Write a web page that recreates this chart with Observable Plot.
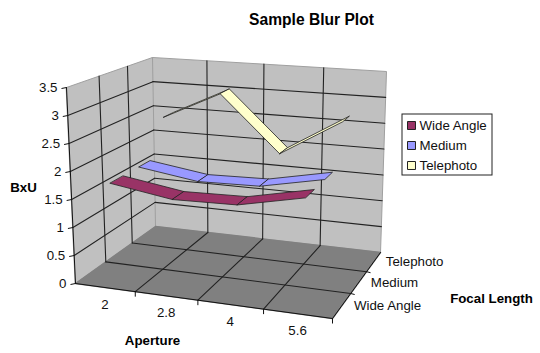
<!DOCTYPE html>
<html><head><meta charset="utf-8">
<script src="https://cdn.jsdelivr.net/npm/d3@7"></script>
<script src="https://cdn.jsdelivr.net/npm/@observablehq/plot@0.6"></script>
<style>html,body{margin:0;padding:0;background:#fff}svg{display:block}</style>
</head><body><div id="chart"></div>
<script>
const title = "Sample Blur Plot";
const apertures = ["2", "2.8", "4", "5.6"];
const focalLengths = ["Wide Angle", "Medium", "Telephoto"];
const valueTicks = [0, 0.5, 1, 1.5, 2, 2.5, 3, 3.5];
const wideAngle = [1.76, 1.59, 1.62, 1.87];
const medium = [1.76, 1.6, 1.63, 1.87];
const telephoto = [2.47, 3.02, 1.95, 2.66];
const seriesColors = ["#993366", "#9999ff", "#ffffcc"];

// Oblique perspective view of the 3-D box (view constants in page units)
const view = {
  f0: [75, 283], f1: [332, 318], b0: [155, 226], b1: [380, 252],
  F0: [66, 87], F1: [338, 110], B0: [152, 57], B1: [386, 71],
  kx: 1.1, kz: 0.82, ribbon: 0.22
};
const lerp = (a, b, t) => [a[0] + (b[0] - a[0]) * t, a[1] + (b[1] - a[1]) * t];
function project(i, z, v) {
  const u = i / 4, w = z / 3;
  const t = u / (u + (1 - u) * view.kx), s = w / (w + (1 - w) * view.kz);
  const bottom = lerp(lerp(view.f0, view.f1, t), lerp(view.b0, view.b1, t), s);
  const top = lerp(lerp(view.F0, view.F1, t), lerp(view.B0, view.B1, t), s);
  const p = lerp(bottom, top, v / 3.5);
  return {x: p[0], y: p[1]};
}
const maxV = 3.5, nI = apertures.length, nZ = focalLengths.length;
const poly = (pts, key) => pts.map((p) => ({...project(...p), key}));

const floor = poly([[0,0,0],[nI,0,0],[nI,nZ,0],[0,nZ,0]], "floor");
const backWall = poly([[0,nZ,0],[nI,nZ,0],[nI,nZ,maxV],[0,nZ,maxV]], "back");
const leftWall = poly([[0,0,0],[0,nZ,0],[0,nZ,maxV],[0,0,maxV]], "left");

let grid = [];
const addSeg = (a, b, key) => grid.push(...poly([a, b], key));
valueTicks.slice(1, -1).forEach((v) => {
  addSeg([0,0,v],[0,nZ,v],"lv"+v);
  addSeg([0,nZ,v],[nI,nZ,v],"bv"+v);
});
d3.range(1, nI).forEach((i) => {
  addSeg([i,nZ,0],[i,nZ,maxV],"bi"+i);
  addSeg([i,0,0],[i,nZ,0],"fi"+i);
});
d3.range(1, nZ).forEach((z) => {
  addSeg([0,z,0],[0,z,maxV],"lz"+z);
  addSeg([0,z,0],[nI,z,0],"fz"+z);
});

let axes = [];
const addAxis = (a, b, key) => axes.push(...poly([a, b], key));
addAxis([0,0,0],[0,0,maxV],"ay");
addAxis([0,0,0],[nI,0,0],"ax");
addAxis([nI,0,0],[nI,nZ,0],"az");
const tickData = [];
valueTicks.forEach((v) => tickData.push({...project(0,0,v), dx:-5, dy:1}));
d3.range(1, nI + 1).forEach((i) => tickData.push({...project(i,0,0), dx:0, dy:5}));
d3.range(1, nZ).forEach((z) => tickData.push({...project(nI,z,0), dx:4, dy:1}));

const series = [wideAngle, medium, telephoto];
const ribbons = [];
[2, 1, 0].forEach((k) => {
  const zc = k + 0.5, d = view.ribbon;
  series[k].slice(0, -1).forEach((v, j) => {
    const v2 = series[k][j + 1];
    const key = `${k}-${j}`;
    poly([[j+.5,zc-d,v],[j+1.5,zc-d,v2],[j+1.5,zc+d,v2],[j+.5,zc+d,v]], key)
      .forEach((p) => ribbons.push({...p, color: seriesColors[k]}));
  });
});

const valueLabels = valueTicks.map((v) => ({...project(0,0,v), text: String(v)}));
const apertureLabels = apertures.map((a, i) => ({...project(i+.5,0,0), text: a}));
const focalLabels = focalLengths.map((f, z) => ({...project(nI,z+.5,0), text: f}));

const font = "Liberation Sans, Arial, sans-serif";
const titles = [
  {x: 311, y: 19, text: title, size: 15.6},
  {x: 23, y: 187, text: "BxU", size: 13.3},
  {x: 152, y: 340, text: "Aperture", size: 13.3},
  {x: 491, y: 298, text: "Focal Length", size: 13.3}
];
const legendBox = [{x1: 402, x2: 492, y1: 114, y2: 175}];
const legendRows = focalLengths.map((f, k) => ({name: f, color: seriesColors[k], y: 125 + 20 * k, x: 411, tx: 419}));

const chart = Plot.plot({
  width: 540, height: 353, margin: 0,
  style: {background: "#fff", fontFamily: font},
  x: {domain: [0, 540], range: [0, 540], axis: null},
  y: {domain: [0, 353], range: [0, 353], axis: null},
  marks: [
    Plot.line(backWall, {x:"x", y:"y", curve:"linear-closed", fill:"#c0c0c0", stroke:"#a0a0a0", strokeWidth:1}),
    Plot.line(leftWall, {x:"x", y:"y", curve:"linear-closed", fill:"#c0c0c0", stroke:"#a0a0a0", strokeWidth:1}),
    Plot.line(floor, {x:"x", y:"y", curve:"linear-closed", fill:"#808080", stroke:"#808080"}),
    Plot.line(grid, {x:"x", y:"y", z:"key", stroke:"#222", strokeWidth:1.1}),
    Plot.line(axes, {x:"x", y:"y", z:"key", stroke:"#111", strokeWidth:1}),
    Plot.link(tickData, {x1:"x", y1:"y", x2:(d)=>d.x+d.dx, y2:(d)=>d.y+d.dy, stroke:"#111", strokeWidth:1}),
    Plot.line(ribbons, {x:"x", y:"y", z:"key", curve:"linear-closed", fill:"color", stroke:"#222", strokeWidth:0.8}),
    Plot.text(valueLabels, {x:"x", y:"y", text:"text", dx:-9, textAnchor:"end", fontSize:13.3, fill:"#111"}),
    Plot.text(apertureLabels, {x:"x", y:"y", text:"text", dy:17, fontSize:13.3, fill:"#111"}),
    Plot.text(focalLabels, {x:"x", y:"y", text:"text", dx:12, dy:0, textAnchor:"start", fontSize:13.3, fill:"#111"}),
    Plot.text(titles, {x:"x", y:"y", text:"text", fontSize:"size", fontWeight:"bold", fill:"#000"}),
    Plot.rect(legendBox, {x1:"x1", x2:"x2", y1:"y1", y2:"y2", fill:"#fff", stroke:"#222", strokeWidth:1}),
    Plot.dot(legendRows, {x:"x", y:"y", symbol:"square", r:4.5, fill:"color", stroke:"#222", strokeWidth:1}),
    Plot.text(legendRows, {x:"tx", y:"y", text:"name", textAnchor:"start", fontSize:13.3, fill:"#111"})
  ]
});
document.getElementById("chart").append(chart);
</script></body></html>
